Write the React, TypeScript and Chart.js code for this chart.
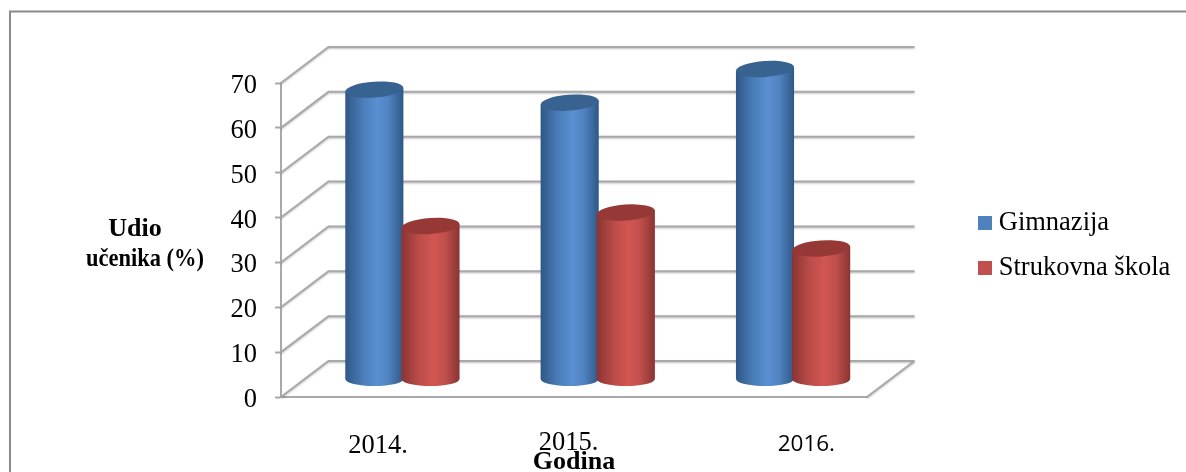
import React, { useEffect, useRef } from "react";
import { Chart, registerables } from "chart.js";

Chart.register(...registerables);

const categories = ["2014.", "2015.", "2016."];
const gimnazija = [65.4, 62.5, 70];
const strukovna = [35, 38, 30];
const seriesNames = ["Gimnazija", "Strukovna škola"];
const axisTitleLines = ["Udio", "učenika (%)"];
const xAxisTitle = "Godina";

const SERIF = "'Liberation Serif', 'Times New Roman', serif";
const GRID = "#a9a9a9";
const DEPTH_X = 47.5;
const DEPTH_Y = 36;

const labelShift = [-0.5, -5.5, 37];
const labelY = [446, 443, 445];
const labelFonts = [`26.5px ${SERIF}`, `26.5px ${SERIF}`, `22.5px 'Open Sans', sans-serif`];

const palette = [
  { top: "#386290", stops: ["#2f5786", "#4a7cb8", "#5a8fd2", "#4f82bf", "#2f5786"], legend: "#4f81bd" },
  { top: "#953836", stops: ["#8a3432", "#bb4c49", "#d25652", "#c04f4c", "#8a3432"], legend: "#c0504d" },
];

function cylinder(ctx: CanvasRenderingContext2D, x: number, w: number, topY: number, bottomY: number, c: typeof palette[0]) {
  const rx = w / 2;
  const ry = 8;
  const tilt = -0.07;
  const left = x - rx;
  const right = x + rx;
  const g = ctx.createLinearGradient(left, 0, right, 0);
  [0, 0.3, 0.55, 0.75, 1].forEach((p, i) => g.addColorStop(p, c.stops[i]));
  ctx.save();
  ctx.fillStyle = g;
  ctx.beginPath();
  ctx.moveTo(left, topY + 2);
  ctx.lineTo(left, bottomY);
  ctx.ellipse(x, bottomY, rx, 7, 0, Math.PI, 0, true);
  ctx.lineTo(right, topY - 2);
  ctx.closePath();
  ctx.fill();
  ctx.fillStyle = c.top;
  ctx.beginPath();
  ctx.ellipse(x, topY, rx, ry, tilt, 0, Math.PI * 2);
  ctx.fill();
  ctx.restore();
}

const scene = {
  id: "scene3d",
  afterLayout(chart: any) {
    const lg = chart.legend;
    if (lg) {
      lg.left = 965.5;
      lg.top = 190.5;
      lg.right = 1186;
      lg.bottom = 465;
    }
  },
  beforeDraw(chart: any) {
    const { ctx, height, width } = chart;
    ctx.save();
    ctx.strokeStyle = "#8a8a8a";
    ctx.lineWidth = 2;
    ctx.beginPath();
    ctx.moveTo(width, 11.5);
    ctx.lineTo(10, 11.5);
    ctx.lineTo(10, height);
    ctx.stroke();
    ctx.restore();
  },
  beforeDatasetsDraw(chart: any) {
    const { ctx, chartArea, scales } = chart;
    const { left, right, bottom } = chartArea;
    const y = scales.y;
    ctx.save();
    ctx.strokeStyle = GRID;
    ctx.lineWidth = 2;
    ctx.shadowColor = "rgba(0,0,0,0.25)";
    ctx.shadowBlur = 2;
    ctx.shadowOffsetY = 1;
    (y.ticks as { value: number }[]).forEach(({ value }) => {
      const py = y.getPixelForValue(value);
      ctx.beginPath();
      ctx.moveTo(left, py);
      ctx.lineTo(left + DEPTH_X, py - DEPTH_Y);
      ctx.lineTo(right + DEPTH_X, py - DEPTH_Y);
      ctx.stroke();
    });
    ctx.beginPath();
    ctx.moveTo(right, bottom);
    ctx.lineTo(right + DEPTH_X, bottom - DEPTH_Y);
    ctx.stroke();
    ctx.restore();
  },
  beforeDatasetDraw() {
    return false;
  },
  afterDatasetsDraw(chart: any) {
    const { ctx, scales } = chart;
    const floor = scales.y.getPixelForValue(0) - 18;
    [0, 1].forEach((i) => {
      chart.getDatasetMeta(i).data.forEach((bar: any) => {
        cylinder(ctx, bar.x + DEPTH_X / 2, bar.width, bar.y - 14, floor, palette[i]);
      });
    });
  },
  afterDraw(chart: any) {
    const { ctx, scales } = chart;
    ctx.save();
    ctx.fillStyle = "#000";
    ctx.textAlign = "center";
    ctx.textBaseline = "middle";
    categories.forEach((label, i) => {
      ctx.font = labelFonts[i];
      ctx.fillText(label, scales.x.getPixelForTick(i) + labelShift[i], labelY[i]);
    });
    ctx.font = `bold 26px ${SERIF}`;
    ctx.fillText(axisTitleLines[0], 135, 229);
    ctx.font = `bold 24.5px ${SERIF}`;
    ctx.fillText(axisTitleLines[1], 145, 260, 118);
    ctx.restore();
  },
};

function swatch(color: string) {
  const c = document.createElement("canvas");
  c.width = 14;
  c.height = 14;
  const g = c.getContext("2d")!;
  g.fillStyle = color;
  g.fillRect(0, 0, 14, 14);
  return c;
}

export default function App() {
  const ref = useRef<HTMLCanvasElement>(null);
  useEffect(() => {
    const chart = new Chart(ref.current!, {
      type: "bar",
      plugins: [scene],
      data: {
        labels: categories,
        datasets: [
          { label: seriesNames[0], data: gimnazija, backgroundColor: palette[0].legend },
          { label: seriesNames[1], data: strukovna, backgroundColor: palette[1].legend },
        ],
      },
      options: {
        animation: false,
        responsive: false,
        layout: { padding: { top: 83, right: 319, bottom: 0, left: 0 } },
        datasets: { bar: { categoryPercentage: 0.575, barPercentage: 1.035 } },
        plugins: {
          tooltip: { enabled: false },
          title: { display: false },
          legend: {
            display: true,
            position: "chartArea",
            align: "start",
            labels: {
              usePointStyle: true,
              pointStyleWidth: 1,
              padding: 19,
              color: "#000",
              font: { family: SERIF, size: 26.5 },
              generateLabels: () =>
                seriesNames.map((text, i) => ({
                  text,
                  datasetIndex: i,
                  pointStyle: swatch(palette[i].legend),
                  fillStyle: palette[i].legend,
                  strokeStyle: palette[i].legend,
                  lineWidth: 0,
                  hidden: false,
                })),
            },
          },
        },
        scales: {
          x: {
            type: "category",
            grid: { display: false, drawTicks: false },
            border: { display: true, color: GRID, width: 2 },
            ticks: { display: false },
            title: {
              display: true,
              text: xAxisTitle,
              color: "#000",
              font: { family: SERIF, size: 26, weight: "bold", lineHeight: 1 },
              padding: { top: 0, bottom: -3 },
            },
            afterFit: (s: any) => {
              s.height = 75;
            },
          },
          y: {
            min: 0,
            max: 70,
            grid: { drawOnChartArea: false, drawTicks: true, tickLength: 6, tickColor: GRID, tickWidth: 2 },
            border: { display: true, color: GRID, width: 2 },
            ticks: {
              stepSize: 10,
              padding: 18,
              color: "#000",
              font: { family: SERIF, size: 26.5 },
            },
            afterFit: (s: any) => {
              s.width = 281;
              if (!s.__shifted) {
                s.__shifted = true;
                const base = s.drawLabels;
                s.drawLabels = function (area: any) {
                  const c = this.ctx;
                  c.save();
                  c.translate(0, 3);
                  base.call(this, area);
                  c.restore();
                };
              }
            },
          },
        },
      },
    } as any);
    return () => chart.destroy();
  }, []);
  return (
    <div style={{ position: "fixed", left: 0, top: 0, width: 1186, height: 472, background: "#fff" }}>
      <canvas ref={ref} width={1186} height={472} style={{ display: "block", filter: "blur(0.35px)" }} />
    </div>
  );
}
